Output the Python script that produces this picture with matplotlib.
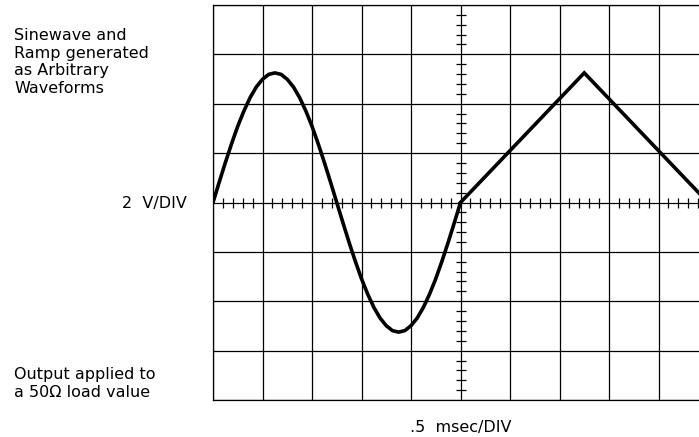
import numpy as np
import matplotlib
matplotlib.use("Agg")
import matplotlib.pyplot as plt

# waveform readings: time (ms, 0.5 ms/div) and voltage (V, 2 V/div)
sine_t = [0.0, 0.0625, 0.125, 0.1875, 0.25, 0.3125, 0.375, 0.4375, 0.5, 0.5625,
          0.625, 0.6875, 0.75, 0.8125, 0.875, 0.9375, 1.0, 1.0625, 1.125, 1.1875,
          1.25, 1.3125, 1.375, 1.4375, 1.5, 1.5625, 1.625, 1.6875, 1.75, 1.8125,
          1.875, 1.9375, 2.0, 2.0625, 2.125, 2.1875, 2.25, 2.3125, 2.375, 2.4375, 2.5]
sine_v = [0.0, 0.82, 1.62, 2.38, 3.09, 3.71, 4.25, 4.68, 4.99, 5.19,
          5.25, 5.19, 4.99, 4.68, 4.25, 3.71, 3.09, 2.38, 1.62, 0.82,
          0.0, -0.82, -1.62, -2.38, -3.09, -3.71, -4.25, -4.68, -4.99, -5.19,
          -5.25, -5.19, -4.99, -4.68, -4.25, -3.71, -3.09, -2.38, -1.62, -0.82, 0.0]
ramp_t = [2.5, 3.75, 5.0]
ramp_v = [0.0, 5.25, 0.0]

x_major = np.arange(0, 5.01, 0.5)
y_major = np.arange(-8, 8.01, 2)
x_minor = [t for t in np.arange(0, 5.001, 0.1) if abs(t / 0.5 - round(t / 0.5)) > 1e-6]
y_minor = [v for v in np.arange(-8, 8.001, 0.4) if abs(v / 2 - round(v / 2)) > 1e-6]

top_lines = ["Sinewave and", "Ramp generated", "as Arbitrary", "Waveforms"]
top_base = [40.5, 58, 75.5, 93]
bot_lines = ["Output applied to", "a 50\u03a9 load value"]
bot_base = [379.5, 397]

W, H = 699, 437
fig = plt.figure(figsize=(W / 100, H / 100), dpi=100)
ax = fig.add_axes([213 / W, 1 - 400 / H, 495 / W, 395 / H])

ax.set_xlim(0, 5)
ax.set_ylim(-8, 8)
for x in x_major:
    ax.axvline(x, color="black", lw=0.9, zorder=1)
for y in y_major:
    ax.axhline(y, color="black", lw=0.9, zorder=1)

# small ticks along the centre axes
ax.plot(x_minor, np.zeros(len(x_minor)), ls="none", marker="|", ms=7,
        mew=0.9, color="black", zorder=2)
ax.plot(np.full(len(y_minor), 2.5), y_minor, ls="none", marker="_", ms=7,
        mew=0.9, color="black", zorder=2)

ax.plot(sine_t, sine_v, color="black", lw=2.6, solid_capstyle="round",
        solid_joinstyle="round", zorder=3)
ax.plot(ramp_t, ramp_v, color="black", lw=2.6, solid_joinstyle="miter", zorder=3)

ax.set_xticks([])
ax.set_yticks([])
for s in ax.spines.values():
    s.set_color("black")
    s.set_linewidth(0.9)

fs = 11.5
for txt, b in zip(top_lines, top_base):
    fig.text(14 / W, 1 - b / H, txt, fontsize=fs, va="baseline", ha="left")
for txt, b in zip(bot_lines, bot_base):
    fig.text(14 / W, 1 - b / H, txt, fontsize=fs, va="baseline", ha="left")
fig.text(187 / W, 1 - 208 / H, "2  V/DIV", fontsize=fs, va="baseline", ha="right")
fig.text(461 / W, 1 - 432 / H, ".5  msec/DIV", fontsize=fs, va="baseline", ha="center")

fig.savefig("out.png", dpi=100)
